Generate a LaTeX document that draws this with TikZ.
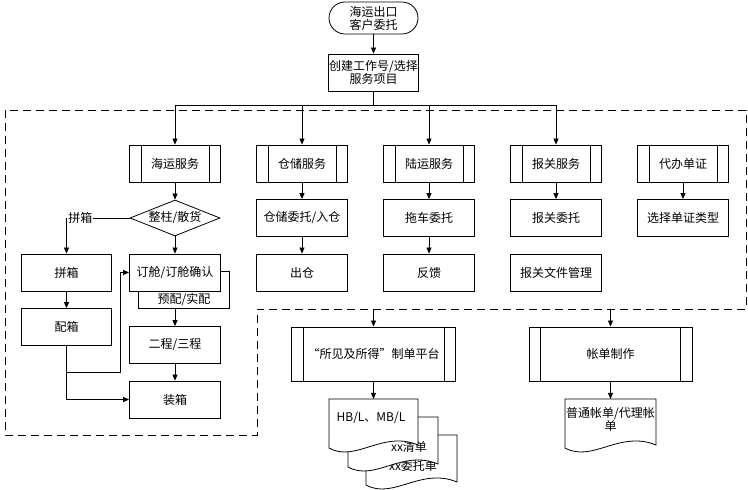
\documentclass[tikz,border=0pt]{standalone}
\usepackage{fontspec}
\setmainfont{Noto Sans CJK SC}
\usetikzlibrary{shapes.geometric, arrows.meta}
\tikzstyle{terminal} = [rectangle, rounded corners=16pt, minimum width=89pt, minimum height=32pt, text centered, draw, fill=white]
\tikzstyle{process} = [rectangle, minimum width=91pt, minimum height=37pt, inner sep=0pt, text centered, draw, fill=white]
\tikzstyle{service} = [process]
\tikzstyle{platform} = [process, minimum width=164pt, minimum height=54pt]
\tikzstyle{decision} = [diamond, aspect=2.5, minimum width=90pt, minimum height=36pt, inner sep=0pt, draw, fill=white]
\tikzstyle{arrow} = [-{Triangle[length=6pt, width=5pt]}]
\tikzstyle{line} = [-]
\tikzstyle{region} = [dash pattern=on 8pt off 5pt]
% document sheet: left x, top y, width, height
\newcommand{\docshape}[4]{%
  \draw[fill=white] (#1,#2) -- ++(#3,0) -- ++(0,{-#4+3})
    .. controls ({#1+0.6*#3},{#2-#4+18}) and ({#1+0.3*#3},{#2-#4-15}) .. (#1,{#2-#4}) -- cycle;}

\begin{document}
\begin{tikzpicture}[x=1pt, y=1pt, node distance=54.5pt, line width=0.8pt, font=\fontsize{12pt}{13pt}\selectfont, align=center]
\useasboundingbox (0,0) rectangle (748,490);

% Frame of the services
\draw [region] (5,380) -- (5,55) -- (257,55) -- (257,181) -- (746,181) -- (746,380) -- cycle;

% Nodes
\node (start) [terminal] at (373.5,472) {海运出口\\客户委托};
\node (task) [process, minimum width=90pt, below of=start] {创建工作号/选择\\服务项目};

\node (sea) [service] at (175,326.5) {海运服务};
\node (store) [service, right of=sea, xshift=72.5pt] {仓储服务};
\node (land) [service, right of=store, xshift=72.5pt] {陆运服务};
\node (customs) [service, right of=land, xshift=72.5pt] {报关服务};
\node (agency) [service, right of=customs, xshift=72.5pt] {代办单证};

\node (split) [decision, below of=sea] {整柱/散货};
\node (storein) [process, below of=store] {仓储委托/入仓};
\node (truck) [process, below of=land] {拖车委托};
\node (declare) [process, below of=customs] {报关委托};
\node (doctype) [process, below of=agency] {选择单证类型};

\node (prepack) [process, below of=split, xshift=9pt, yshift=-17.5pt, label={[anchor=south]south:预配/实配}] {};
\node (book) [process, below of=split] {订舱/订舱确认};
\node (storeout) [process, below of=storein] {出仓};
\node (feedback) [process, below of=truck] {反馈};
\node (files) [process, below of=declare] {报关文件管理};

\node (pack) [process, minimum width=90pt, left of=book, xshift=-54pt] {拼箱};
\node (match) [process, minimum width=90pt, below of=pack] {配箱};
\node (second) [process, below of=book, yshift=-18pt] {二程/三程};
\node (load) [process, below of=second] {装箱};

\node (wysiwyg) [platform] at (373.5,136) {“所见及所得”制单平台};
\node (billing) [platform, minimum width=163pt, right of=wysiwyg, xshift=182.5pt] {帐单制作};

\foreach \n in {sea,store,land,customs,agency,wysiwyg,billing} {
  \draw ([xshift=12pt]\n.north west) -- ([xshift=12pt]\n.south west);
  \draw ([xshift=-12pt]\n.north east) -- ([xshift=-12pt]\n.south east);
}

\coordinate (bus) at (373.5,385);
\coordinate (joint) at (66.5,118);
\coordinate (exitA) at (373.5,181);
\coordinate (exitB) at (610.5,181);
\coordinate (hbtop) at (373.5,91);
\coordinate (billtop) at (610.5,91);

% Arrows
\draw [arrow] (start.south) -- (task.north);
\draw [line] (task.south) -- (bus);
\draw [arrow] (bus) -| (sea.north);
\draw [arrow] (bus) -| (store.north);
\draw [arrow] (bus) -| (land.north);
\draw [arrow] (bus) -| (customs.north);

\draw [arrow] (sea.south) -- (split.north);
\draw [arrow] (split.south) -- (book.north);
\draw [arrow] (split.west) -| node[pos=0.5, anchor=west, xshift=0.5pt, fill=white, inner sep=1pt] (lcltext) {拼箱} (pack.north);
\draw [arrow] (pack.south) -- (match.north);
\draw [arrow] (match.south) |- (load.west);
\draw [arrow] (joint) -| ([xshift=-9pt]book.west) -- (book.west);
\draw [arrow] (prepack.south -| second.north) -- (second.north);
\draw [arrow] (second.south) -- (load.north);

\draw [arrow] (store.south) -- (storein.north);
\draw [arrow] (storein.south) -- (storeout.north);
\draw [arrow] (land.south) -- (truck.north);
\draw [arrow] (truck.south) -- (feedback.north);
\draw [arrow] (customs.south) -- (declare.north);
\draw [arrow] (agency.south) -- (doctype.north);

\draw [arrow] (exitA) -- (wysiwyg.north);
\draw [arrow] (exitB) -- (billing.north);
\draw [arrow] (wysiwyg.south) -- (hbtop);
\draw [arrow] (billing.south) -- (billtop);

% Documents
\docshape{366}{55}{91}{50}
\node (listc) at (413,24) {xx委托单};
\docshape{348}{73}{90}{50}
\node (listb) at (409,43) {xx清单};
\docshape{329}{91}{89}{49}
\node (hbl) at (371,72) {HB/L、MB/L};
\docshape{565}{91}{91}{49}
\node (billdoc) at (610.5,71) {普通帐单/代理帐\\单};

\end{tikzpicture}
\end{document}
